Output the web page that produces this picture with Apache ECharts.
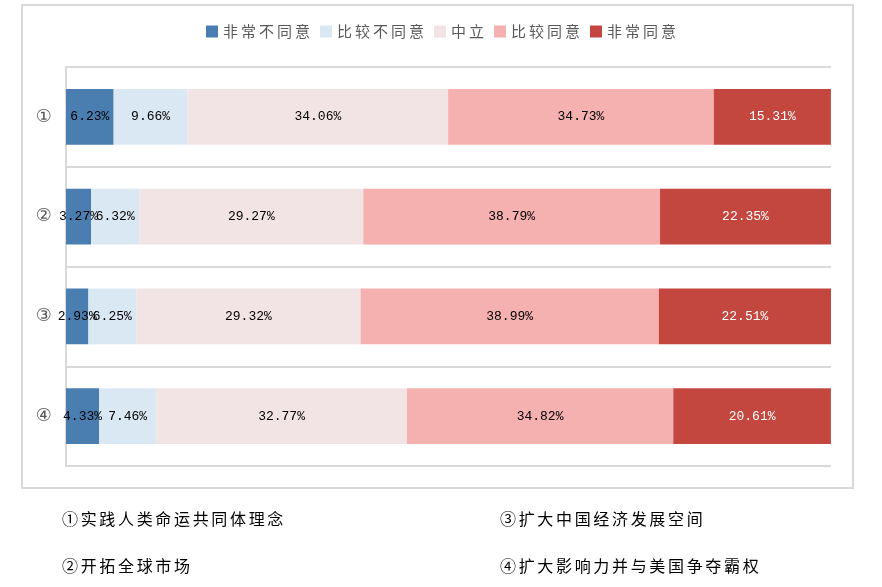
<!DOCTYPE html>
<html><head><meta charset="utf-8">
<script src="https://cdn.jsdelivr.net/npm/echarts@6/dist/echarts.min.js"></script>
<style>html,body{margin:0;padding:0;background:#fff}#c{width:882px;height:587px}</style>
</head><body><div id="c"></div>
<script>
const categories = ['①','②','③','④'];
const seriesNames = ['非常不同意','比较不同意','中立','比较同意','非常同意'];
const s1 = [6.23, 3.27, 2.93, 4.33];
const s2 = [9.66, 6.32, 6.25, 7.46];
const s3 = [34.06, 29.27, 29.32, 32.77];
const s4 = [34.73, 38.79, 38.99, 34.82];
const s5 = [15.31, 22.35, 22.51, 20.61];
const notes = ['①实践人类命运共同体理念','②开拓全球市场','③扩大中国经济发展空间','④扩大影响力并与美国争夺霸权'];

const values = [s1,s2,s3,s4,s5];
const colors = ['#4a7eb0','#dae8f4','#f2e4e4','#f5b0b0','#c3473f'];
const labelColors = ['#000','#000','#000','#000','#fff'];
const spaced = (s, sp) => s.split('').join(sp);

const chart = echarts.init(document.getElementById('c'));
chart.setOption({
  animation:false,
  legend:{
    top:19, left:'center', itemWidth:12, itemHeight:12, itemGap:10,
    icon:'rect',
    formatter: n => spaced(n, '\u2009'),
    textStyle:{color:'#595959', fontSize:15, fontFamily:'Noto Sans CJK SC'},
    data:seriesNames
  },
  grid:{left:66, right:51, top:67, bottom:121},
  xAxis:{type:'value', min:0, max:100, show:false},
  yAxis:{type:'category', data:categories, inverse:true,
    axisLine:{show:true, lineStyle:{color:'#d9d9d9', width:2}},
    axisTick:{show:false},
    axisLabel:{color:'#595959', fontSize:18, margin:14, fontFamily:'DejaVu Sans'},
    splitLine:{show:true, lineStyle:{color:'#d9d9d9', width:2}}
  },
  graphic:[
    {type:'rect', shape:{x:22, y:5, width:831, height:483}, style:{fill:'none', stroke:'#d9d9d9', lineWidth:2}, silent:true, z:-1},
    {type:'line', shape:{x1:66, y1:466, x2:831, y2:466}, style:{stroke:'#d9d9d9', lineWidth:2}, z:-1},
    {type:'text', left:62, top:511, style:{text:spaced(notes[0], '\u2006'), fontSize:16, fill:'#000', fontFamily:'Noto Sans CJK SC'}},
    {type:'text', left:62, top:558, style:{text:spaced(notes[1], '\u2006'), fontSize:16, fill:'#000', fontFamily:'Noto Sans CJK SC'}},
    {type:'text', left:500, top:511, style:{text:spaced(notes[2], '\u2006'), fontSize:16, fill:'#000', fontFamily:'Noto Sans CJK SC'}},
    {type:'text', left:500, top:558, style:{text:spaced(notes[3], '\u2006'), fontSize:16, fill:'#000', fontFamily:'Noto Sans CJK SC'}}
  ],
  series: seriesNames.map((n,i)=>({
    name:n, type:'bar', stack:'t', barWidth:'56%',
    itemStyle:{color:colors[i]},
    label:{show:true, position:'inside', color:labelColors[i], fontSize:13, fontFamily:'Liberation Mono',
      formatter:p=>p.value.toFixed(2)+'%'},
    data:values[i]
  }))
});
</script></body></html>
